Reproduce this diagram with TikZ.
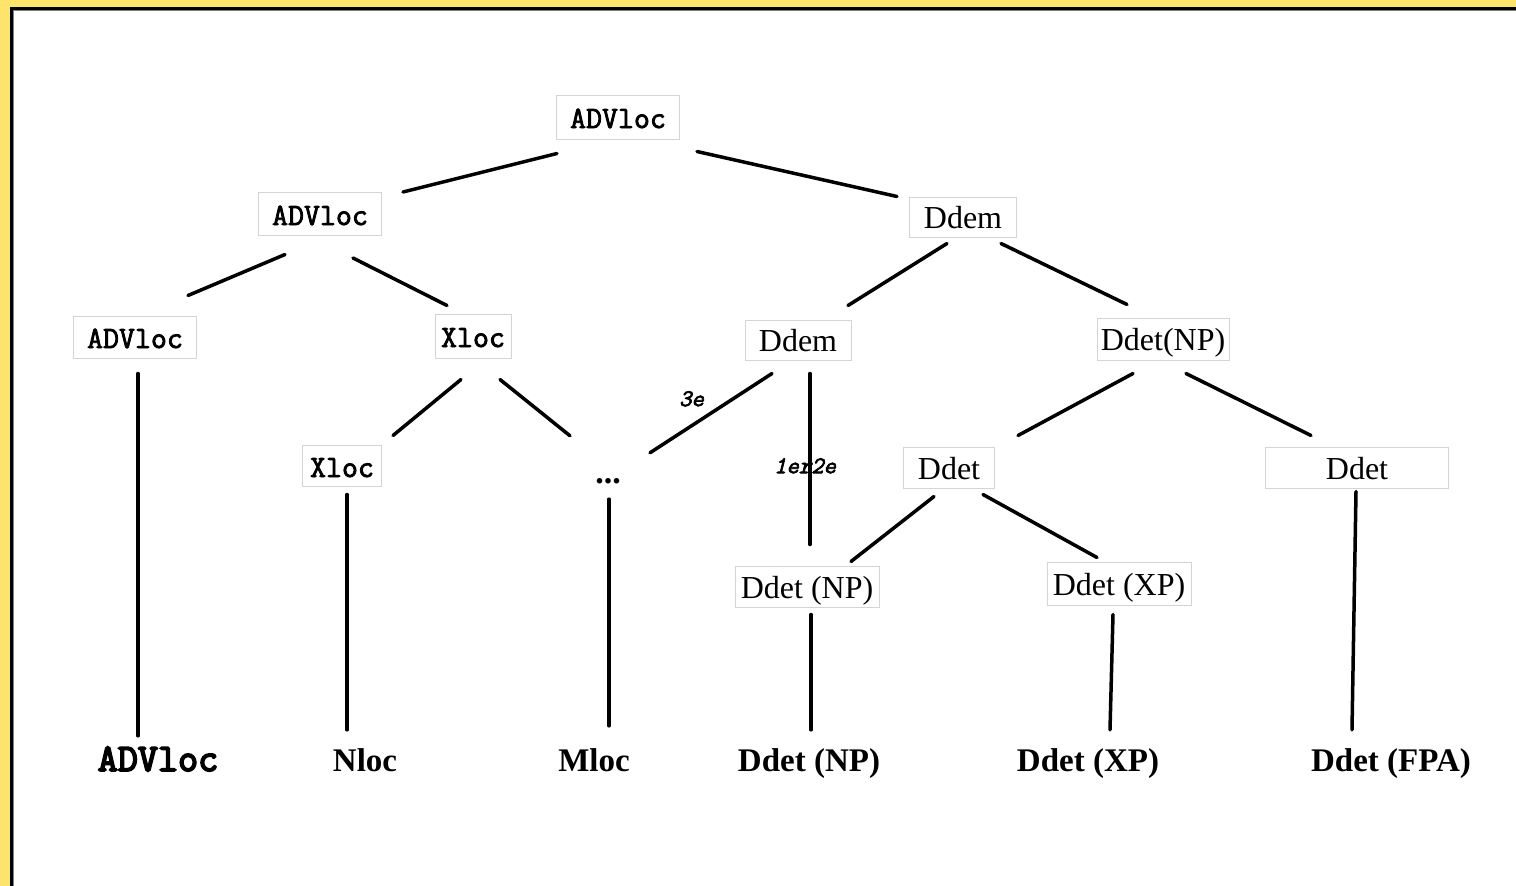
\documentclass[tikz,border=0pt]{standalone}
\usepackage{fontspec}
\setmainfont{Liberation Serif}
\setmonofont{Latin Modern Mono}[AutoFakeBold=2.5]
\newfontfamily\heavypix{Latin Modern Mono}[FakeBold=4.5]
\newfontfamily\tagpix{Latin Modern Mono}[FakeBold=3,FakeSlant=0.25]
\definecolor{frameyellow}{HTML}{FFE46B}
\definecolor{boxgray}{HTML}{D4D4D4}
\tikzset{
  cat/.style={draw=boxgray,line width=1pt,inner sep=0pt,minimum height=42pt,
    text height=22pt,text depth=0pt,font=\fontsize{32}{36}\selectfont},
  pixcat/.style={cat,font=\ttfamily\bfseries\fontsize{31}{34}\selectfont},
  leaf/.style={inner sep=0pt,minimum height=40pt,text height=22pt,text depth=0pt,
    font=\bfseries\fontsize{33}{38}\selectfont},
  pixleaf/.style={leaf,font=\heavypix\fontsize{39}{40}\selectfont},
  link/.style={line width=3.5pt,line cap=round},
  tag/.style={inner sep=0pt,font=\tagpix\fontsize{24}{26}\selectfont}
}
\begin{document}
\begin{tikzpicture}[x=1pt,y=-1pt]
\useasboundingbox (0,0) rectangle (1516,886);
% frame
\fill[frameyellow] (0,0) rectangle (1516,886);
\fill[white] (10,7) rectangle (1516,886);
\draw[line width=3pt] (11.5,886) -- (11.5,8.5) -- (1516,8.5);
\draw[gray,line width=1pt] (13.5,886) -- (13.5,10.5) -- (1516,10.5);

% categories
\node[pixcat,minimum width=123pt,minimum height=44pt] (top) at (618,117) {ADVloc};
\node[pixcat,minimum width=123pt,minimum height=43pt] (adv2) at (320,214) {ADVloc};
\node[cat,minimum width=107pt,minimum height=40pt] (ddemA) at (963,217) {Ddem};
\node[pixcat,minimum width=123pt] (adv3) at (135,337) {ADVloc};
\node[pixcat,minimum width=76pt,minimum height=44pt] (xlocA) at (473,336) {Xloc};
\node[cat,minimum width=106pt,minimum height=40pt] (ddemB) at (798,340) {Ddem};
\node[cat,minimum width=132pt] (ddetNP) at (1163,339) {Ddet(NP)};
\node[pixcat,minimum width=79pt,minimum height=41pt] (xlocB) at (342,466) {Xloc};
\node[inner sep=0pt,minimum width=40pt,minimum height=40pt,
  font=\bfseries\fontsize{34}{36}\selectfont] (dots) at (608,481) {...};
\node[cat,minimum width=91pt,minimum height=41pt] (ddetA) at (949,468) {Ddet};
\node[cat,minimum width=183pt,minimum height=41pt] (ddetB) at (1357,468) {Ddet};
\node[cat,minimum width=144pt,minimum height=41pt] (ddetNPb) at (807,587) {Ddet (NP)};
\node[cat,minimum width=144pt,minimum height=43pt] (ddetXP) at (1119,584) {Ddet (XP)};

% leaves
\node[pixleaf] (advL) at (158,760) {ADVloc};
\node[leaf] (nlocL) at (365,760) {Nloc};
\node[leaf] (mlocL) at (594,760) {Mloc};
\node[leaf] (npL) at (809,760) {Ddet (NP)};
\node[leaf] (xpL) at (1088,760) {Ddet (XP)};
\node[leaf] (fpaL) at (1391,760) {Ddet (FPA)};

% branches
\draw[link] ([xshift=-61pt,yshift=-14pt]top.south) -- ([xshift=83pt]adv2.north);
\draw[link] ([xshift=79pt,yshift=-12pt]top.south) -- ([xshift=-66pt]ddemA.north);
\draw[link] ([xshift=-35pt,yshift=-18.5pt]adv2.south) -- ([xshift=53pt,yshift=20pt]adv3.north);
\draw[link] ([xshift=33pt,yshift=-22pt]adv2.south) -- ([xshift=-26pt,yshift=8pt]xlocA.north);
\draw[link] ([xshift=-16pt,yshift=-6pt]ddemA.south) -- ([xshift=50pt,yshift=14pt]ddemB.north);
\draw[link] ([xshift=38pt,yshift=-6pt]ddemA.south) -- ([xshift=-36pt,yshift=13pt]ddetNP.north);
\draw[link] ([xshift=-12pt,yshift=-21pt]xlocA.south) -- ([xshift=51pt,yshift=9.5pt]xlocB.north);
\draw[link] ([xshift=27pt,yshift=-21pt]xlocA.south) -- ([xshift=-38pt,yshift=25pt]dots.north);
\draw[link] ([xshift=-26pt,yshift=-13pt]ddemB.south) -- ([xshift=42pt,yshift=8pt]dots.north)
  node[tag,pos=0.66,yshift=27pt] (l3e) {3e};
\draw[link] ([xshift=12pt,yshift=-13pt]ddemB.south) -- ([xshift=3pt,yshift=21.5pt]ddetNPb.north)
  node[tag,pos=0.54,xshift=-5pt] (l12e) {1er2e};
\draw[link] ([xshift=-30pt,yshift=-13pt]ddetNP.south) -- ([xshift=69pt,yshift=11.5pt]ddetA.north);
\draw[link] ([xshift=23pt,yshift=-13pt]ddetNP.south) -- ([xshift=-46pt,yshift=11.5pt]ddetB.north);
\draw[link] ([xshift=-15pt,yshift=-7.5pt]ddetA.south) -- ([xshift=44pt,yshift=4.5pt]ddetNPb.north);
\draw[link] ([xshift=34pt,yshift=-5.5pt]ddetA.south) -- ([xshift=-22pt,yshift=4.5pt]ddetXP.north);

% to the leaves
\draw[link] ([xshift=3pt,yshift=-15pt]adv3.south) -- ([xshift=-20pt,yshift=4pt]advL.north);
\draw[link] ([xshift=5pt,yshift=-7.5pt]xlocB.south) -- ([xshift=-18pt,yshift=10pt]nlocL.north);
\draw[link] ([xshift=1pt,yshift=2pt]dots.south) -- ([xshift=15pt,yshift=14pt]mlocL.north);
\draw[link] ([xshift=4pt,yshift=-6.5pt]ddetNPb.south) -- ([xshift=2pt,yshift=10pt]npL.north);
\draw[link] ([xshift=-6pt,yshift=-8.5pt]ddetXP.south) -- ([xshift=22pt,yshift=10pt]xpL.north);
\draw[link] ([xshift=-1pt,yshift=-2.5pt]ddetB.south) -- ([xshift=-39pt,yshift=10pt]fpaL.north);
\end{tikzpicture}
\end{document}
